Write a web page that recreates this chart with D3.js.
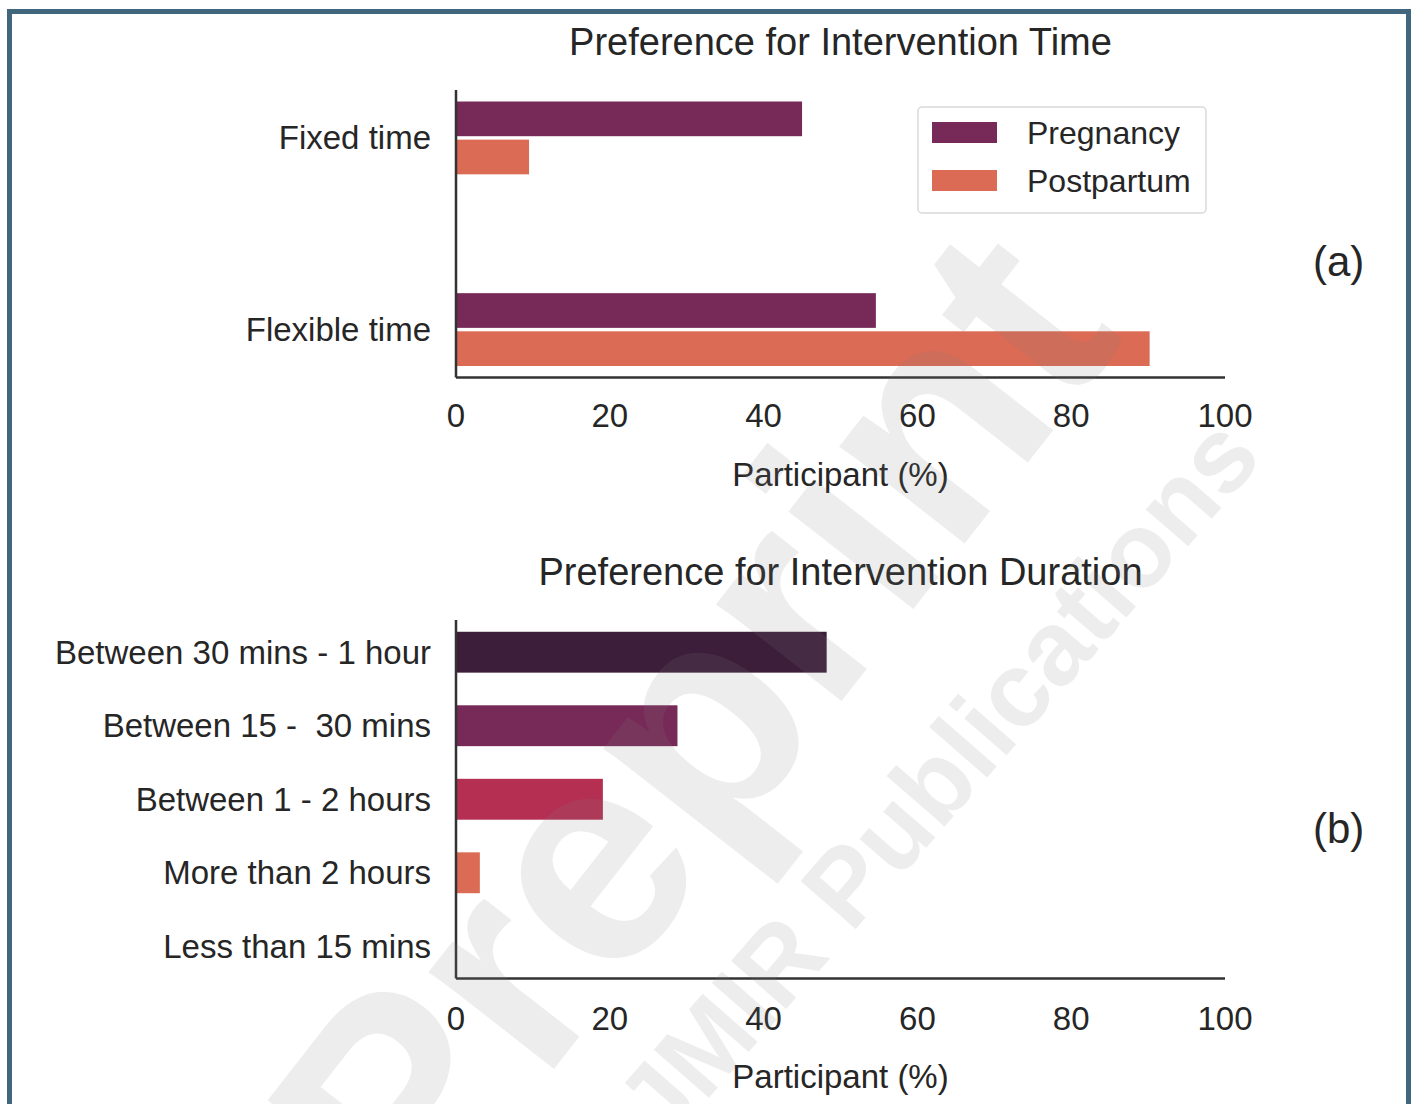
<!DOCTYPE html>
<html>
<head>
<meta charset="utf-8">
<script src="https://cdn.jsdelivr.net/npm/d3@7"></script>
<style>
  html, body { margin: 0; padding: 0; background: #ffffff; }
  svg { display: block; }
  text { font-family: "Liberation Sans", Arial, Helvetica, sans-serif; fill: #262626; white-space: pre; }
</style>
</head>
<body>
<svg id="fig" width="1414" height="1104"></svg>
<script>
// ---- data ----
const timeCategories = ["Fixed time", "Flexible time"];
const timeSeries = ["Pregnancy", "Postpartum"];
const pregnancyValues = [45.0, 54.6];
const postpartumValues = [9.5, 90.2];

const durationCategories = [
  "Between 30 mins - 1 hour",
  "Between 15 -  30 mins",
  "Between 1 - 2 hours",
  "More than 2 hours",
  "Less than 15 mins"
];
const durationValues = [48.2, 28.8, 19.1, 3.1, 0];

const xTickValues = [0, 20, 40, 60, 80, 100];

const titleTime = "Preference for Intervention Time";
const titleDuration = "Preference for Intervention Duration";
const xAxisLabel = "Participant (%)";
const panelLabels = ["(a)", "(b)"];

// ---- styles ----
const seriesColors = { Pregnancy: "#772a57", Postpartum: "#dc6b55" };
const durationColors = ["#3c1e3b", "#772a57", "#b52f52", "#dc6b55", "#f3a77f"];
const axisColor = "#333333";

const svg = d3.select("#fig");

// outer frame
svg.append("rect")
  .attr("x", 9.5).attr("y", 11.5)
  .attr("width", 1399).attr("height", 1200)
  .attr("fill", "#ffffff")
  .attr("stroke", "#41677e").attr("stroke-width", 5);

const plotLeft = 456, plotRight = 1225;
const x = d3.scaleLinear().domain([0, 100]).range([plotLeft, plotRight]);

function drawXAxis(yPos, tickBaseline, labelBaseline) {
  svg.append("line")
    .attr("x1", plotLeft).attr("x2", plotRight)
    .attr("y1", yPos).attr("y2", yPos)
    .attr("stroke", axisColor).attr("stroke-width", 2.5);
  svg.append("g").selectAll("text").data(xTickValues).join("text")
    .attr("x", d => x(d)).attr("y", tickBaseline)
    .attr("text-anchor", "middle").attr("font-size", 33)
    .text(d => d);
  svg.append("text")
    .attr("x", (plotLeft + plotRight) / 2).attr("y", labelBaseline)
    .attr("text-anchor", "middle").attr("font-size", 33)
    .text(xAxisLabel);
}

function drawYAxis(y0, y1) {
  svg.append("line")
    .attr("x1", plotLeft).attr("x2", plotLeft)
    .attr("y1", y0).attr("y2", y1)
    .attr("stroke", axisColor).attr("stroke-width", 2.5);
}

// ---- panel (a): time preference, grouped bars ----
const topY0 = 90, topY1 = 377.5;
const yTime = d3.scalePoint().domain(timeCategories).range([topY0, topY1]).padding(0.25);
const groupHalf = yTime.step() * 0.19;
const ySeries = d3.scaleBand().domain(timeSeries).range([-groupHalf, groupHalf]).paddingInner(0.09);

const timeRows = timeCategories.map((c, i) => ({
  category: c,
  values: [
    { series: "Pregnancy", value: pregnancyValues[i] },
    { series: "Postpartum", value: postpartumValues[i] }
  ]
}));

const gTime = svg.append("g");
gTime.selectAll("g").data(timeRows).join("g")
  .attr("transform", d => `translate(0,${yTime(d.category)})`)
  .selectAll("rect").data(d => d.values).join("rect")
    .attr("x", x(0))
    .attr("y", d => ySeries(d.series))
    .attr("width", d => x(d.value) - x(0))
    .attr("height", ySeries.bandwidth())
    .attr("fill", d => seriesColors[d.series]);

svg.append("g").selectAll("text").data(timeCategories).join("text")
  .attr("x", 431).attr("y", d => yTime(d))
  .attr("dy", "0.35em")
  .attr("text-anchor", "end").attr("font-size", 33)
  .text(d => d);

drawYAxis(topY0, topY1);
drawXAxis(topY1, 427, 486);

svg.append("text")
  .attr("x", (plotLeft + plotRight) / 2).attr("y", 55)
  .attr("text-anchor", "middle").attr("font-size", 38)
  .text(titleTime);

// legend
const legend = svg.append("g");
legend.append("rect")
  .attr("x", 918).attr("y", 107).attr("width", 288).attr("height", 106)
  .attr("rx", 4).attr("ry", 4)
  .attr("fill", "#ffffff").attr("stroke", "#d9d9d9").attr("stroke-width", 1.5);
legend.selectAll("g.item").data(timeSeries).join("g")
  .attr("class", "item")
  .attr("transform", (d, i) => `translate(0,${132.5 + i * 48})`)
  .call(g => {
    g.append("rect")
      .attr("x", 932).attr("y", -10.5).attr("width", 65).attr("height", 21)
      .attr("fill", d => seriesColors[d]);
    g.append("text")
      .attr("x", 1027).attr("y", 0).attr("dy", "0.36em")
      .attr("font-size", 32)
      .text(d => d);
  });

svg.append("text")
  .attr("x", 1313).attr("y", 276).attr("font-size", 42)
  .text(panelLabels[0]);

// ---- panel (b): duration preference ----
const botY0 = 620, botY1 = 978.5;
const yDur = d3.scaleBand().domain(durationCategories).range([botY0, botY1])
  .paddingInner(0.444).paddingOuter(0.16);

svg.append("g").selectAll("rect").data(durationCategories).join("rect")
  .attr("x", x(0))
  .attr("y", d => yDur(d))
  .attr("width", (d, i) => x(durationValues[i]) - x(0))
  .attr("height", yDur.bandwidth())
  .attr("fill", (d, i) => durationColors[i]);

svg.append("g").selectAll("text").data(durationCategories).join("text")
  .attr("x", 431).attr("y", d => yDur(d) + yDur.bandwidth() / 2)
  .attr("dy", "0.35em")
  .attr("text-anchor", "end").attr("font-size", 33)
  .text(d => d);

drawYAxis(botY0, botY1);
drawXAxis(botY1, 1030, 1088);

svg.append("text")
  .attr("x", (plotLeft + plotRight) / 2).attr("y", 585)
  .attr("text-anchor", "middle").attr("font-size", 38)
  .text(titleDuration);

svg.append("text")
  .attr("x", 1313).attr("y", 843).attr("font-size", 42)
  .text(panelLabels[1]);

// ---- watermark ----
const wm = svg.append("g").attr("pointer-events", "none");
wm.append("text")
  .attr("transform", "translate(772,790) rotate(-52)")
  .attr("text-anchor", "middle")
  .attr("font-size", 300).attr("font-weight", "bold")
  .style("fill", "#808080").attr("fill-opacity", 0.14)
  .text("Preprint");
wm.append("text")
  .attr("transform", "translate(965,803) rotate(-49)")
  .attr("text-anchor", "middle")
  .attr("font-size", 106).attr("font-weight", "bold")
  .style("fill", "#808080").attr("fill-opacity", 0.14)
  .text("JMIR Publications");
</script>
</body>
</html>
